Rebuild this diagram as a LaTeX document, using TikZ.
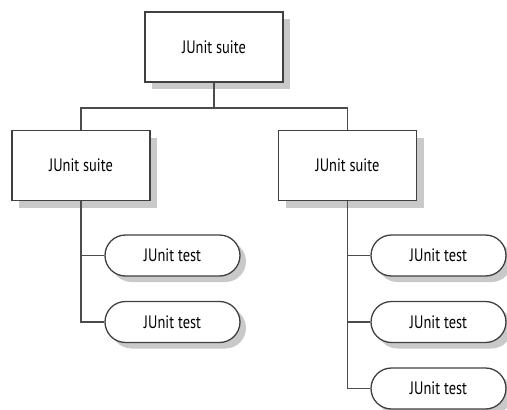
\documentclass[tikz,border=0pt]{standalone}
\usepackage{fontspec}
\setmainfont{PT Sans}
\usetikzlibrary{shadows,shapes.misc}
\begin{document}
\begin{tikzpicture}[x=1pt,y=-1pt,
  lbl/.style={font=\fontsize{18}{20}\selectfont},
  suite/.style={lbl, draw=black!75, line width=1.3pt, fill=white, minimum width=138pt, minimum height=70pt, inner sep=0pt,
    drop shadow={shadow xshift=7pt, shadow yshift=-7pt, fill=black!30, opacity=0.7}},
  testnode/.style={lbl, draw=black!75, line width=1.3pt, fill=white, rounded rectangle, minimum width=135pt, minimum height=41pt, inner sep=0pt,
    drop shadow={shadow xshift=6pt, shadow yshift=-6pt, fill=black!30, opacity=0.7}},
  conn/.style={draw=black!70, line width=1.3pt}]
\useasboundingbox (0,0) rectangle (507,410);
\newcommand{\jt}[1]{\scalebox{0.8}[1]{#1}}
\node[suite] (top) at (214,47) {\jt{JUnit suite}};
\node[suite] (ls) at (81,165.5) {\jt{JUnit suite}};
\node[suite] (rs) at (347.5,165.5) {\jt{JUnit suite}};
\node[testnode] (l1) at (172.5,255.5) {\jt{JUnit test}};
\node[testnode] (l2) at (172.5,322) {\jt{JUnit test}};
\node[testnode] (r1) at (438.5,255.5) {\jt{JUnit test}};
\node[testnode] (r2) at (438.5,322) {\jt{JUnit test}};
\node[testnode] (r3) at (438.5,388.5) {\jt{JUnit test}};
\coordinate (hub) at (214,108);
\draw[conn] (top.south) -- (hub);
\draw[conn] (ls.north) -- (ls.north |- hub) -- (rs.north |- hub) -- (rs.north);
\draw[conn] (ls.south) -- (ls.south |- l2.west) -- (l2.west);
\draw[conn] (ls.south |- l1.west) -- (l1.west);
\draw[conn] (rs.south) -- (rs.south |- r3.west) -- (r3.west);
\draw[conn] (rs.south |- r1.west) -- (r1.west);
\draw[conn] (rs.south |- r2.west) -- (r2.west);
\end{tikzpicture}
\end{document}
